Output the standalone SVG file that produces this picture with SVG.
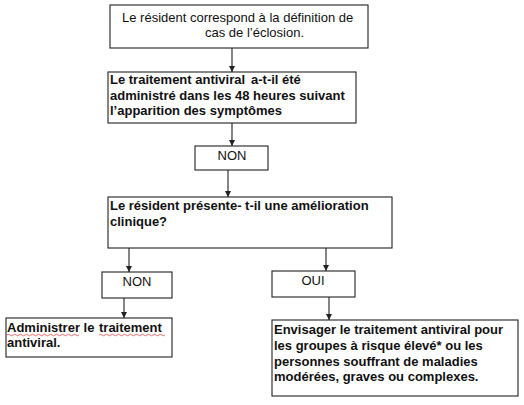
<svg xmlns="http://www.w3.org/2000/svg" width="524" height="405" viewBox="0 0 524 405">
<style>
.box{fill:#fff;stroke:#222;stroke-width:1.1}
.t{font-family:"Liberation Sans",Arial,sans-serif;font-size:13px;fill:#111}
.b{font-weight:bold}
.c{stroke:#222;stroke-width:1.1;fill:none}
.sq{stroke:#e03030;stroke-width:0.7;fill:none}
</style>
<defs>
<marker id="ah" viewBox="0 0 6 6" refX="6" refY="3" markerWidth="6" markerHeight="6" markerUnits="userSpaceOnUse" orient="auto">
<path d="M0,0 L6,3 L0,6 Z" fill="#222"/>
</marker>
</defs>
<rect width="524" height="405" fill="#fff"/>
<g id="connectors">
<line class="c" x1="232" y1="48" x2="232" y2="72" marker-end="url(#ah)"/>
<line class="c" x1="232" y1="123" x2="232" y2="146" marker-end="url(#ah)"/>
<line class="c" x1="228" y1="170" x2="228" y2="197" marker-end="url(#ah)"/>
<line class="c" x1="129" y1="248" x2="129" y2="272" marker-end="url(#ah)"/>
<line class="c" x1="124" y1="298" x2="124" y2="318" marker-end="url(#ah)"/>
<line class="c" x1="326" y1="248" x2="326" y2="271" marker-end="url(#ah)"/>
<line class="c" x1="329" y1="297" x2="329" y2="320" marker-end="url(#ah)"/>
</g>
<g id="n1">
<rect class="box" x="110" y="5" width="258" height="43"/>
<text class="t" x="122" y="22">Le résident correspond à la définition de</text>
<text class="t" x="205" y="37">cas de l’éclosion.</text>
</g>
<g id="n2">
<rect class="box" x="108" y="72" width="248" height="51"/>
<text class="t b" x="110" y="84">Le traitement antiviral <tspan x="251">a-t-il été</tspan></text>
<text class="t b" x="110" y="99.5">administré dans les 48 heures suivant</text>
<text class="t b" x="110" y="115">l’apparition des symptômes</text>
</g>
<g id="n3">
<rect class="box" x="195" y="146" width="73" height="24"/>
<text class="t" x="232" y="160" text-anchor="middle">NON</text>
</g>
<g id="n4">
<rect class="box" x="108" y="197" width="284" height="51"/>
<text class="t b" x="110" y="210">Le résident présente- t-il une amélioration</text>
<text class="t b" x="110" y="226">clinique?</text>
</g>
<g id="n5">
<rect class="box" x="102" y="272" width="70" height="26"/>
<text class="t" x="137" y="286" text-anchor="middle">NON</text>
</g>
<g id="n6">
<rect class="box" x="6" y="318" width="166" height="39"/>
<text class="t b" x="7" y="332">Administrer le <tspan x="99">traitement</tspan></text>
<text class="t b" x="7" y="347">antiviral.</text>
<path class="sq" d="M7,335 q1.5,-1.5 3,0 t3,0 t3,0 t3,0 t3,0 t3,0 t3,0 t3,0 t3,0 t3,0 t3,0 t3,0 t3,0 t3,0 t3,0 t3,0 t3,0 t3,0 t3,0 t3,0 t3,0 t3,0 t3,0 t3,0"/>
<path class="sq" d="M99,335 q1.5,-1.5 3,0 t3,0 t3,0 t3,0 t3,0 t3,0 t3,0 t3,0 t3,0 t3,0 t3,0 t3,0 t3,0 t3,0 t3,0 t3,0 t3,0 t3,0 t3,0 t3,0 t3,0 t3,0"/>
</g>
<g id="n7">
<rect class="box" x="272" y="271" width="83" height="26"/>
<text class="t" x="313" y="285" text-anchor="middle">OUI</text>
</g>
<g id="n8">
<rect class="box" x="272" y="320" width="246" height="76"/>
<text class="t b" x="274" y="334">Envisager le traitement antiviral pour</text>
<text class="t b" x="274" y="350">les groupes à risque élevé* ou les</text>
<text class="t b" x="274" y="366">personnes souffrant de maladies</text>
<text class="t b" x="274" y="381">modérées, graves ou complexes.</text>
</g>
</svg>
